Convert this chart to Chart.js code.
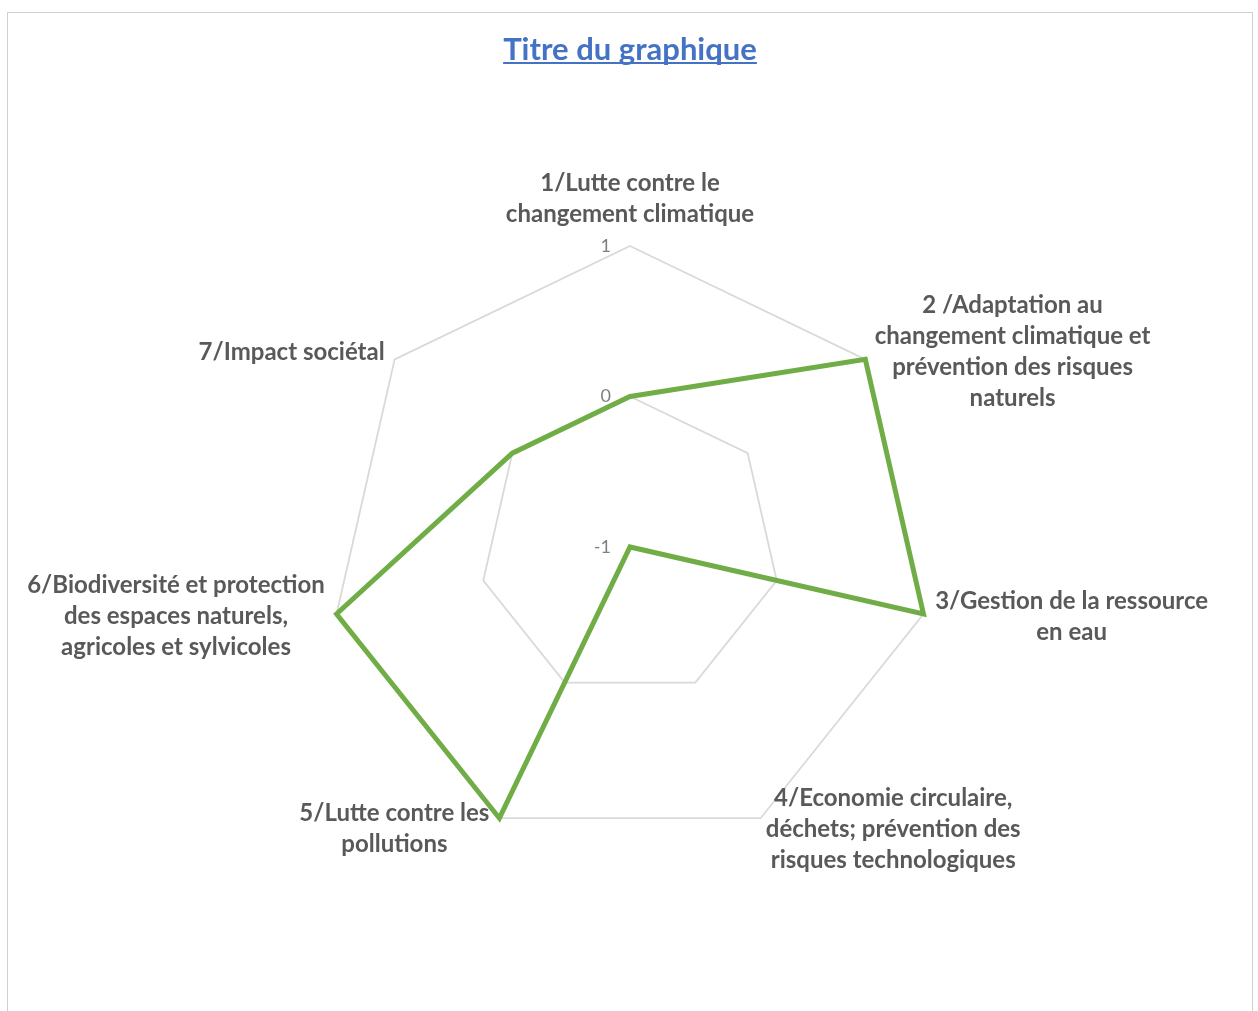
<!DOCTYPE html>
<html lang="fr">
<head>
<meta charset="utf-8">
<title>Titre du graphique</title>
<script src="https://cdn.jsdelivr.net/npm/chart.js@4.4.1/dist/chart.umd.min.js"></script>
<style>
    html, body { margin: 0; padding: 0; background: #fff; }
    #wrap { position: relative; width: 1258px; height: 1011px; overflow: hidden; }
    #frame {
        position: absolute; left: 7px; top: 12px; width: 1246px; height: 1020px;
        border: 1px solid #d0d0d0; box-sizing: border-box;
    }
    #radarChart { position: absolute; left: 0; top: 0; }
</style>
</head>
<body>
<div id="wrap">
    <div id="frame"></div>
    <canvas id="radarChart" width="1258" height="1011"></canvas>
</div>
<script>
// ===============================
// Données du graphique
// ===============================
const categories = [
    ["1/Lutte contre le", "changement climatique"],
    ["2 /Adaptation au", "changement climatique et", "prévention des risques", "naturels"],
    ["3/Gestion de la ressource", "en eau"],
    ["4/Economie circulaire,", "déchets; prévention des", "risques technologiques"],
    ["5/Lutte contre les", "pollutions"],
    ["6/Biodiversité et protection", "des espaces naturels,", "agricoles et sylvicoles"],
    ["7/Impact sociétal"]
];
const scores = [0, 1, 1, -1, 1, 1, 0];
const tickValues = [-1, 0, 1];

const labelFont = "bold 24px Lato, 'Open Sans', sans-serif";
const labelColor = "#595959";
const lineH = 31;

// ===============================
// Étiquettes des axes et graduations (style Excel)
// ===============================
const excelLabels = {
    id: "excelLabels",
    afterDraw(chart) {
        const ctx = chart.ctx;
        const scale = chart.scales.r;

        // graduations -1 / 0 / 1 à gauche de l'axe vertical
        ctx.save();
        ctx.font = "18px Lato, 'Open Sans', sans-serif";
        ctx.fillStyle = "#7f7f7f";
        ctx.textAlign = "right";
        ctx.textBaseline = "middle";
        tickValues.forEach(v => {
            const r = scale.getDistanceFromCenterForValue(v);
            ctx.fillText(String(v), scale.xCenter - 19, scale.yCenter - r);
        });
        ctx.restore();

        // libellés des axes
        ctx.save();
        ctx.font = labelFont;
        ctx.fillStyle = labelColor;
        ctx.textAlign = "center";
        ctx.textBaseline = "middle";
        chart.data.labels.forEach((lines, i) => {
            const angle = scale.getIndexAngle(i);
            const p = scale.getPointPosition(i, scale.drawingArea + 12);
            const v = scale.getPointPosition(i, scale.drawingArea);
            const w = Math.max(...lines.map(l => ctx.measureText(l).width));
            const h = lines.length * lineH;
            let cx, top;
            if (Math.abs(Math.sin(angle)) < 0.05) {
                cx = p.x;
                top = p.y - 4 - h;
            } else if (Math.sin(angle) > 0) {
                cx = p.x + w / 2;
                top = p.y - h / 2;
            } else {
                cx = Math.min(p.x, v.x - 10) - w / 2;
                top = p.y - h / 2;
            }
            lines.forEach((l, k) => ctx.fillText(l, cx, top + lineH * (k + 0.5)));
        });
        ctx.restore();

        // soulignement du titre
        const t = chart.titleBlock;
        if (t) {
            ctx.save();
            ctx.font = "bold 31px Lato, 'Open Sans', sans-serif";
            const tw = ctx.measureText(chart.options.plugins.title.text).width;
            const mid = (t.left + t.right) / 2;
            ctx.strokeStyle = "#4472c4";
            ctx.lineWidth = 2;
            ctx.beginPath();
            ctx.moveTo(mid - tw / 2, 63);
            ctx.lineTo(mid + tw / 2, 63);
            ctx.stroke();
            ctx.restore();
        }
    }
};

document.addEventListener("DOMContentLoaded", () => {
    const ctx = document.getElementById("radarChart").getContext("2d");

    new Chart(ctx, {
        type: "radar",
        data: {
            labels: categories,
            datasets: [{
                label: "Série1",
                data: scores,
                borderColor: "#70ad47",
                borderWidth: 5,
                backgroundColor: "rgba(0,0,0,0)",
                fill: false,
                pointRadius: 0,
                pointHoverRadius: 0,
                tension: 0
            }]
        },
        options: {
            responsive: false,
            animation: false,
            layout: {
                padding: { left: 328, right: 326, top: 0, bottom: 162 }
            },
            plugins: {
                legend: { display: false },
                tooltip: { enabled: false },
                title: {
                    display: true,
                    text: "Titre du graphique",
                    color: "#4472c4",
                    font: { family: "Lato, 'Open Sans', sans-serif", size: 31, weight: "bold" },
                    padding: { top: 31, bottom: 177 }
                }
            },
            scales: {
                r: {
                    min: -1,
                    max: 1,
                    ticks: { stepSize: 1, display: false },
                    grid: { color: "#d9d9d9", lineWidth: 1.8 },
                    angleLines: { display: false },
                    pointLabels: { display: false }
                }
            }
        },
        plugins: [excelLabels]
    });
});
</script>
</body>
</html>
